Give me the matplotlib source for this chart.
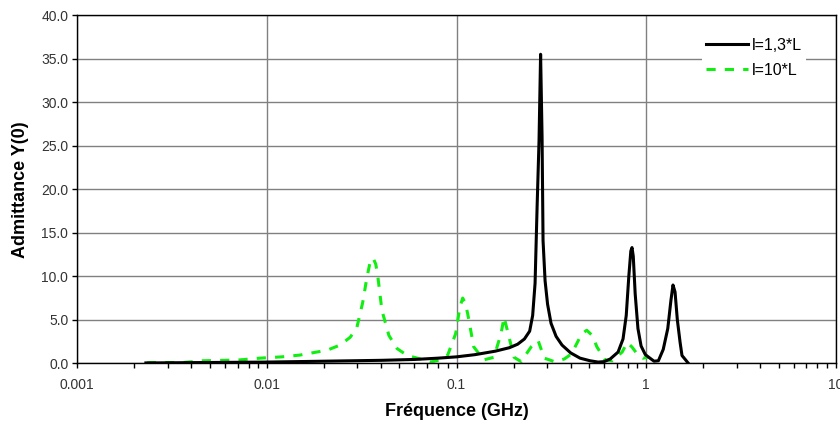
import matplotlib
matplotlib.use("Agg")
import matplotlib.pyplot as plt
from matplotlib.ticker import FixedLocator, FixedFormatter, LogLocator, NullFormatter

plt.rcParams['font.family'] = ['Liberation Sans', 'DejaVu Sans']

# courbe l=1,3*L  (frequence en GHz, admittance)
freq_13 = [0.0023, 0.005, 0.01, 0.02, 0.04, 0.06, 0.08, 0.1, 0.125, 0.16, 0.19,
           0.21, 0.228, 0.243, 0.252, 0.2595, 0.266, 0.2723, 0.2775, 0.2825, 0.2859,
           0.293, 0.302, 0.315, 0.335, 0.36, 0.4, 0.448, 0.506, 0.558, 0.6, 0.646,
           0.711, 0.755, 0.785, 0.81, 0.83, 0.842, 0.855, 0.875, 0.905, 0.94,
           0.99, 1.047, 1.10, 1.16, 1.23, 1.3, 1.35, 1.385, 1.42, 1.46, 1.51,
           1.545, 1.6, 1.663]
adm_13 = [0.05, 0.1, 0.15, 0.25, 0.35, 0.45, 0.6, 0.75, 1.0, 1.4, 1.8,
          2.2, 2.8, 3.7, 5.5, 9.2, 18.0, 25.6, 35.5, 26.0, 14.1,
          9.5, 6.8, 4.6, 3.1, 2.1, 1.2, 0.6, 0.3, 0.15, 0.2, 0.5,
          1.3, 2.8, 5.5, 10.0, 12.9, 13.3, 12.3, 8.0, 4.0, 2.0,
          1.0, 0.6, 0.25, 0.3, 1.6, 4.0, 7.2, 9.0, 8.2, 5.0, 2.4,
          0.9, 0.5, 0.05]

# courbe l=10*L
freq_10 = [0.00233, 0.00242, 0.00361, 0.0046, 0.006, 0.0072, 0.0092, 0.012, 0.0149,
           0.0183, 0.0207, 0.0243, 0.0275, 0.0298, 0.032, 0.0337, 0.035, 0.0363,
           0.0375, 0.0385, 0.0404, 0.044, 0.0486, 0.055,
           0.0621, 0.0728, 0.082, 0.0896, 0.0989, 0.104, 0.1077, 0.111, 0.1145,
           0.1232, 0.1392, 0.1574, 0.1716, 0.1781, 0.1892, 0.201, 0.2191, 0.2475,
           0.2695, 0.2902, 0.3283, 0.37, 0.4043, 0.4572, 0.4862, 0.52, 0.5497,
           0.6063, 0.6611, 0.7471, 0.7942, 0.84, 0.8952, 0.963, 1.023]
adm_10 = [0.05, 0.1, 0.1, 0.3, 0.35, 0.4, 0.6, 0.75, 0.95,
          1.3, 1.5, 2.1, 3.0, 4.1, 7.0, 9.9, 11.6, 12.1,
          11.4, 9.9, 6.1, 3.2, 1.7, 0.9,
          0.6, 0.15, 0.4, 0.9, 3.4, 6.4, 7.5, 7.0, 5.7,
          1.9, 0.4, 0.7, 3.4, 5.3, 3.0, 0.7, 0.2, 1.9,
          2.6, 0.6, 0.2, 0.5, 1.1, 3.4, 3.8, 3.2, 1.9,
          0.4, 0.3, 1.3, 2.4, 1.9, 1.1, 0.6, 0.7]

x_ticks = [0.001, 0.01, 0.1, 1, 10]
x_labels = ['0.001', '0.01', '0.1', '1', '10']
y_ticks = [0, 5, 10, 15, 20, 25, 30, 35, 40]

fig = plt.figure(figsize=(8.4, 4.25), dpi=100)
ax = fig.add_axes([0.092, 0.145, 0.903, 0.8195])

ax.plot(freq_13, adm_13, color='black', lw=2.2, label='l=1,3*L', zorder=3)
ax.plot(freq_10, adm_10, color='#11ee11', lw=2.2, ls=(0, (3, 3)), label='l=10*L', zorder=2)

ax.set_xscale('log')
ax.set_xlim(0.001, 10)
ax.set_ylim(0, 40)
ax.xaxis.set_major_locator(FixedLocator(x_ticks))
ax.xaxis.set_major_formatter(FixedFormatter(x_labels))
ax.xaxis.set_minor_locator(LogLocator(base=10, subs=range(2, 10)))
ax.xaxis.set_minor_formatter(NullFormatter())
ax.set_yticks(y_ticks)
ax.set_yticklabels([f"{v:.1f}" for v in y_ticks])

ax.grid(True, which='major', color='#808080', lw=1)
ax.set_axisbelow(True)
ax.tick_params(which='both', direction='out', length=3.5, width=1, colors='black',
               labelsize=10, labelcolor='#333333')
ax.tick_params(axis='x', pad=7)
ax.tick_params(axis='y', pad=3)
for s in ax.spines.values():
    s.set_color('black')
    s.set_linewidth(1)

ax.set_xlabel('Fréquence (GHz)', fontsize=13, fontweight='bold', labelpad=8)
ax.set_ylabel('Admittance Y(0)', fontsize=13, fontweight='bold', labelpad=9)

leg = fig.legend(loc='upper left', bbox_to_anchor=(702 / 840, 1 - 34 / 425),
                 frameon=True, fontsize=11.5, handlelength=2.6, handletextpad=0.25,
                 borderpad=0.25, labelspacing=0.6, borderaxespad=0)
leg.get_frame().set_edgecolor('none')
leg.get_frame().set_facecolor('white')
leg.get_frame().set_alpha(1)
leg.get_frame().set_boxstyle('square', pad=0.0)

fig.savefig('out.png', dpi=100)
